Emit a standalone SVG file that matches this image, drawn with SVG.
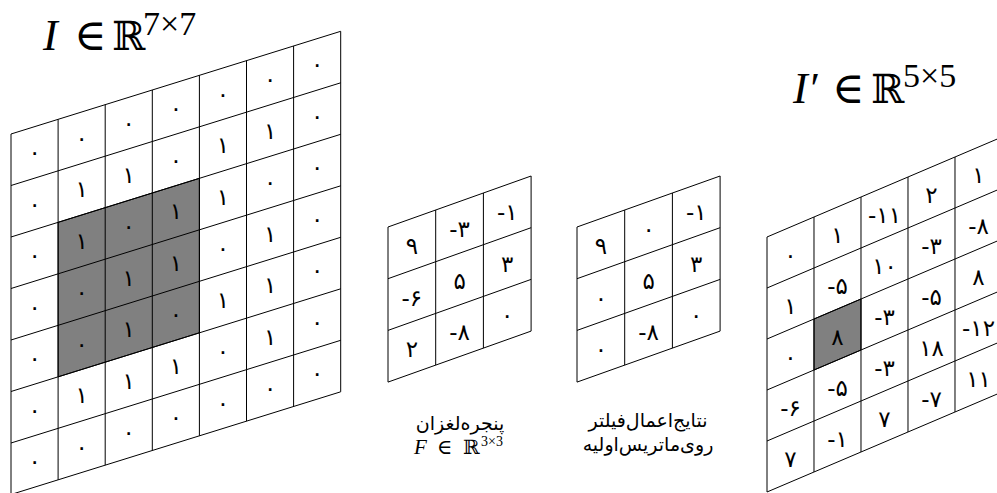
<svg xmlns="http://www.w3.org/2000/svg" width="997" height="493" viewBox="0 0 997 493">
<style>
.bg{fill:#fff}
.ln{fill:none;stroke:#000;stroke-width:1}
.sh{fill:#808080;stroke:#000;stroke-width:1}
.d{font-family:"DejaVu Sans",sans-serif;font-size:23px;text-anchor:middle;dominant-baseline:central;fill:#000}
.m{font-family:"Liberation Serif","DejaVu Serif",serif;fill:#000}
.bb{font-family:"DejaVu Serif","DejaVu Sans",serif;fill:#000}
.fa{font-family:"DejaVu Sans",sans-serif;font-size:19px;text-anchor:middle;fill:#000}
</style>
<rect class="bg" x="0" y="0" width="997" height="493"/>

<g id="label-I">
<text class="m" x="43" y="50" font-size="44" font-style="italic">I</text>
<text class="bb" x="74" y="50" font-size="44">∈</text>
<text class="bb" x="112" y="50" font-size="40">ℝ</text>
<text class="m" x="143" y="35" font-size="34">7×7</text>
</g>

<g id="grid-I">
<path class="sh" vector-effect="non-scaling-stroke" transform="matrix(47.1,-14.67,0,51.5,11,134)" d="M1,2H4V5H1Z"/>
<path class="ln" vector-effect="non-scaling-stroke" transform="matrix(47.1,-14.67,0,51.5,11,134)" d="M0,0V7M1,0V7M2,0V7M3,0V7M4,0V7M5,0V7M6,0V7M7,0V7M0,0H7M0,1H7M0,2H7M0,3H7M0,4H7M0,5H7M0,6H7M0,7H7"/>
<g class="d">
<text x="34.6" y="152.4">۰</text><text x="81.7" y="137.8">۰</text><text x="128.8" y="123.1">۰</text><text x="175.9" y="108.4">۰</text><text x="223" y="93.7">۰</text><text x="270.1" y="79.1">۰</text><text x="317.2" y="64.4">۰</text>
<text x="34.6" y="203.9">۰</text><text x="81.7" y="189.3">۱</text><text x="128.8" y="174.6">۱</text><text x="175.9" y="159.9">۰</text><text x="223" y="145.2">۱</text><text x="270.1" y="130.6">۱</text><text x="317.2" y="115.9">۰</text>
<text x="34.6" y="255.4">۰</text><text x="81.7" y="240.8">۱</text><text x="128.8" y="226.1">۰</text><text x="175.9" y="211.4">۱</text><text x="223" y="196.7">۱</text><text x="270.1" y="182.1">۰</text><text x="317.2" y="167.4">۰</text>
<text x="34.6" y="306.9">۰</text><text x="81.7" y="292.3">۰</text><text x="128.8" y="277.6">۱</text><text x="175.9" y="262.9">۱</text><text x="223" y="248.2">۰</text><text x="270.1" y="233.6">۱</text><text x="317.2" y="218.9">۰</text>
<text x="34.6" y="358.4">۰</text><text x="81.7" y="343.8">۰</text><text x="128.8" y="329.1">۱</text><text x="175.9" y="314.4">۰</text><text x="223" y="299.7">۱</text><text x="270.1" y="285.1">۱</text><text x="317.2" y="270.4">۰</text>
<text x="34.6" y="409.9">۰</text><text x="81.7" y="395.3">۱</text><text x="128.8" y="380.6">۱</text><text x="175.9" y="365.9">۱</text><text x="223" y="351.2">۰</text><text x="270.1" y="336.6">۱</text><text x="317.2" y="321.9">۰</text>
<text x="34.6" y="461.4">۰</text><text x="81.7" y="446.8">۰</text><text x="128.8" y="432.1">۰</text><text x="175.9" y="417.4">۰</text><text x="223" y="402.7">۰</text><text x="270.1" y="388.1">۰</text><text x="317.2" y="373.4">۰</text>
</g>
</g>

<g id="grid-F">
<path class="ln" vector-effect="non-scaling-stroke" transform="matrix(47.7,-17,0,51.7,388,227)" d="M0,0V3M1,0V3M2,0V3M3,0V3M0,0H3M0,1H3M0,2H3M0,3H3"/>
<g class="d">
<text x="411.9" y="246">۹</text><text x="459.6" y="229">-۳</text><text x="507.3" y="212">-۱</text>
<text x="411.9" y="297.7">-۶</text><text x="459.6" y="280.7">۵</text><text x="507.3" y="263.7">۳</text>
<text x="411.9" y="349.4">۲</text><text x="459.6" y="332.4">-۸</text><text x="507.3" y="315.4">۰</text>
</g>
<text class="fa" x="460" y="430">پنجره‌لغزان</text>
<text class="m" x="414" y="454" font-size="21" font-style="italic">F</text>
<text class="bb" x="437" y="454" font-size="21">∈</text>
<text class="bb" x="463" y="454" font-size="20">ℝ</text>
<text class="m" x="481" y="446" font-size="14">3×3</text>
</g>

<g id="grid-result">
<path class="ln" vector-effect="non-scaling-stroke" transform="matrix(47.7,-17,0,51.7,577,227)" d="M0,0V3M1,0V3M2,0V3M3,0V3M0,0H3M0,1H3M0,2H3M0,3H3"/>
<g class="d">
<text x="600.9" y="246">۹</text><text x="648.6" y="229">۰</text><text x="696.3" y="212">-۱</text>
<text x="600.9" y="297.7">۰</text><text x="648.6" y="280.7">۵</text><text x="696.3" y="263.7">۳</text>
<text x="600.9" y="349.4">۰</text><text x="648.6" y="332.4">-۸</text><text x="696.3" y="315.4">۰</text>
</g>
<text class="fa" x="648" y="427">نتایج‌اعمال‌فیلتر</text>
<text class="fa" x="648" y="451">روی‌ماتریس‌اولیه</text>
</g>

<g id="label-Iprime">
<text class="m" x="793" y="103" font-size="44" font-style="italic">I′</text>
<text class="bb" x="832" y="103" font-size="44">∈</text>
<text class="bb" x="871" y="103" font-size="40">ℝ</text>
<text class="m" x="903" y="87" font-size="34">5×5</text>
</g>

<g id="grid-Iprime">
<path class="sh" vector-effect="non-scaling-stroke" transform="matrix(47,-20,0,51,767,237)" d="M1,2H2V3H1Z"/>
<path class="ln" vector-effect="non-scaling-stroke" transform="matrix(47,-20,0,51,767,237)" d="M0,0V5M1,0V5M2,0V5M3,0V5M4,0V5M5,0V5M0,0H5M0,1H5M0,2H5M0,3H5M0,4H5M0,5H5"/>
<g class="d">
<text x="790.5" y="255">۰</text><text x="837.5" y="235">۱</text><text x="884.5" y="215">-۱۱</text><text x="931.5" y="195">۲</text><text x="978.5" y="175">۱</text>
<text x="790.5" y="306">۱</text><text x="837.5" y="286">-۵</text><text x="884.5" y="266">۱۰</text><text x="931.5" y="246">-۳</text><text x="978.5" y="226">-۸</text>
<text x="790.5" y="357">۰</text><text x="837.5" y="337">۸</text><text x="884.5" y="317">-۳</text><text x="931.5" y="297">-۵</text><text x="978.5" y="277">۸</text>
<text x="790.5" y="408">-۶</text><text x="837.5" y="388">-۵</text><text x="884.5" y="368">-۳</text><text x="931.5" y="348">۱۸</text><text x="978.5" y="328">-۱۲</text>
<text x="790.5" y="459">۷</text><text x="837.5" y="439">-۱</text><text x="884.5" y="419">۷</text><text x="931.5" y="399">-۷</text><text x="978.5" y="379">۱۱</text>
</g>
</g>
</svg>
